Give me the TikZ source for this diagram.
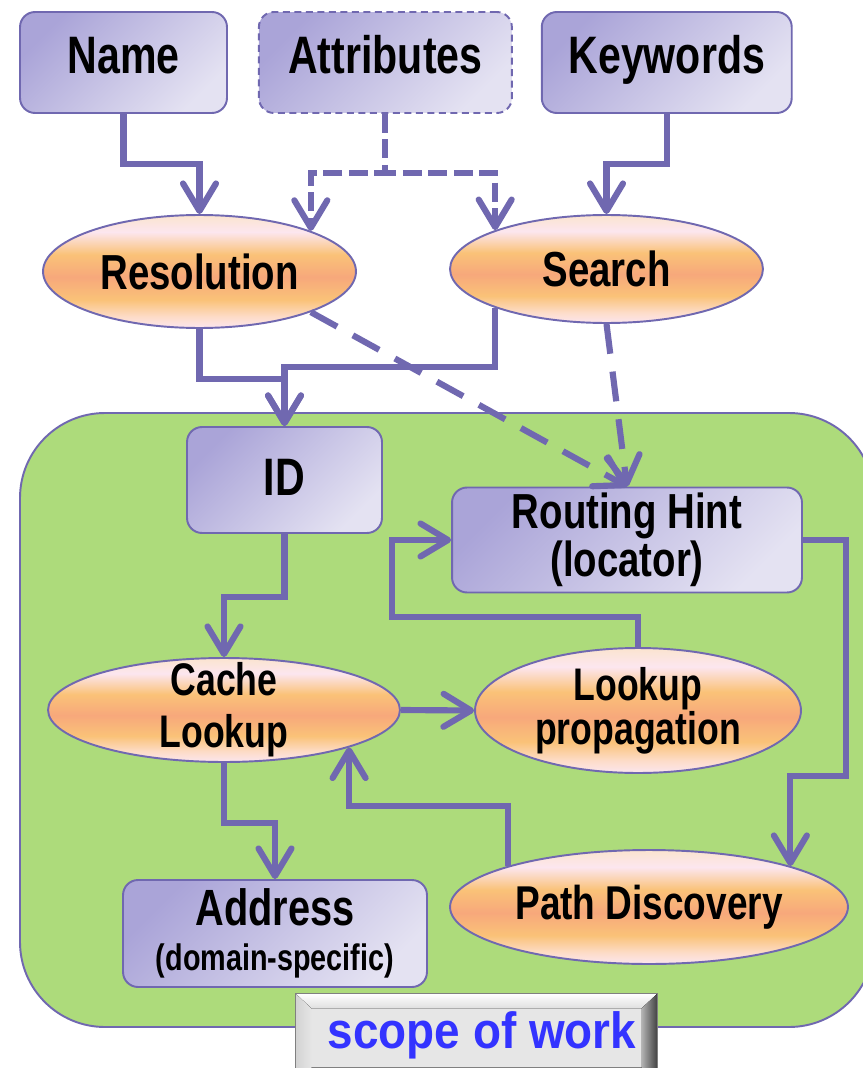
\documentclass[tikz,border=0pt]{standalone}
\usepackage{fontspec}
\setmainfont{Liberation Sans}[FakeStretch=0.78]
\newfontfamily\scopefont{Liberation Sans}[FakeStretch=0.9]
\usetikzlibrary{positioning,calc}
\usetikzlibrary{shapes.geometric}
\usetikzlibrary{arrows.meta}

\definecolor{lineblue}{RGB}{112,104,176}
\definecolor{boxdark}{RGB}{170,164,216}
\definecolor{boxlight}{RGB}{228,226,242}
\definecolor{scopegreen}{RGB}{173,219,123}
\definecolor{ovtop}{RGB}{251,228,207}
\definecolor{ovpink}{RGB}{252,230,239}
\definecolor{ovlow}{RGB}{253,220,200}
\definecolor{ovorange}{RGB}{250,194,120}
\definecolor{ovsalmon}{RGB}{247,168,123}
\definecolor{wordblue}{RGB}{51,51,255}

\pgfdeclareverticalshading{peachshade}{100bp}{%
  color(0bp)=(ovpink); color(25bp)=(ovpink); color(30bp)=(ovlow);
  color(37.5bp)=(ovorange); color(47.5bp)=(ovsalmon); color(57.5bp)=(ovorange);
  color(67.5bp)=(ovpink); color(75bp)=(ovtop); color(100bp)=(ovtop)}

\tikzset{%
  % Specifications for style of nodes:
    >={Straight Barb[length=0.55cm,width=0.66cm,round]},
    idbox/.style={rectangle, rounded corners=0.3cm, draw=lineblue, line width=1.1pt,
        top color=boxdark, bottom color=boxlight, shading angle=45,
        inner sep=0, align=center, font=\bfseries\fontsize{30}{30}\selectfont},
    topbox/.style={idbox, minimum height=2.02cm, text height=0.76cm, text depth=0.32cm},
    oval/.style={ellipse, draw=lineblue, line width=1.1pt, shading=peachshade,
        inner xsep=0, inner ysep=-0.4cm, align=center, font=\bfseries\fontsize{28}{28}\selectfont},
    flow/.style={->, draw=lineblue, line width=3.5pt},
    dflow/.style={flow, dash pattern=on 0.38cm off 0.13cm},
    lflow/.style={flow, dash pattern=on 0.6cm off 0.36cm},
    scopebtn/.style={rectangle, draw=gray, line width=0.6pt, fill={rgb,255:red,230;green,230;blue,230},
        minimum width=7.22cm, minimum height=1.48cm, inner sep=0, text height=0.9cm, text depth=0.21cm,
        text=wordblue, font=\scopefont\bfseries\fontsize{29}{29}\selectfont},
}

\begin{document}
\begin{tikzpicture}[x=0.02cm, y=-0.02cm]
    \useasboundingbox (0,0) rectangle (862,1068);
    % scope of work area
    \draw[fill=scopegreen, draw=lineblue, line width=1.1pt, rounded corners=1.7cm]
        (20,413) rectangle (874,1027);

    % inputs
    \node[topbox, minimum width=4.14cm] (name) at (123.5,62.5) {Name};
    \node[topbox, minimum width=5.06cm, dash pattern=on 0.14cm off 0.09cm, right=0.6cm of name] (attr) {Attributes};
    \node[topbox, minimum width=5.0cm, right=0.56cm of attr] (keyw) {Keywords};

    \node[oval, minimum width=6.26cm, minimum height=2.26cm] (res) at (199.5,271.5) {Resolution};
    \node[oval, minimum width=6.26cm, minimum height=2.16cm] (srch) at (606.5,269) {Search};

    % inside the scope
    \node[idbox, minimum width=3.9cm, minimum height=2.12cm, text depth=0.12cm] (id) at (284.5,480) {ID};
    \node[idbox, minimum width=7cm, minimum height=2.1cm, font=\bfseries\fontsize{28}{24}\selectfont]
        (hint) at (627,540) {Routing Hint\\(locator)};
    \node[oval, minimum width=7.04cm, minimum height=2.08cm, font=\bfseries\fontsize{26}{29.5}\selectfont]
        (cache) at (224,710) {Cache\\Lookup};
    \node[oval, minimum width=6.52cm, minimum height=2.5cm, font=\bfseries\fontsize{26}{23}\selectfont]
        (prop) at (638,710.5) {Lookup\\propagation};
    \node[oval, minimum width=7.96cm, minimum height=2.28cm, font=\bfseries\fontsize{27}{27}\selectfont]
        (path) at (649,907) {Path Discovery};
    \node[idbox, minimum width=6.08cm, minimum height=2.14cm, font=\bfseries\fontsize{29}{24}\selectfont]
        (addr) at (275,933.5) {Address\\[0.05cm]{\fontsize{21}{21}\selectfont(domain-specific)}};

    % label button
    \node[scopebtn] (scope) at (476.5,1031) {\hspace*{0.22cm}scope of work};
    \fill[top color=white, bottom color=gray!25] (scope.north west) -- (scope.north east)
        -- ++(-16,15) -- ($(scope.north west)+(16,15)$) -- cycle;
    \fill[left color=gray!35, right color=gray!20] (scope.north west) -- ++(16,15)
        -- ($(scope.south west)+(16,0)$) -- (scope.south west) -- cycle;
    \fill[left color=gray!60, right color=black!75] (scope.north east) -- ++(-16,15)
        -- ($(scope.south east)+(-16,0)$) -- (scope.south east) -- cycle;
    \draw[gray, line width=0.6pt] (scope.south west) |- (scope.north east) -- (scope.south east);

    % connectors
    \draw[flow] (name.south) -- ++(0,50) -| (res.north);
    \draw[dflow] (attr.south) -- ++(0,59) -| (res.north east);
    \draw[dflow] (attr.south) -- ++(0,59) -| (srch.north west);
    \draw[flow] (keyw.south) -- ++(0,50) -| (srch.north);
    \draw[flow] (res.south) -- ++(0,50) -| (id.north);
    \draw[flow] (srch.south west) -- ++(0,59) -| (id.north);
    \draw[lflow] (res.south east) -- (hint.north);
    \draw[lflow] (srch.south) -- (hint.north);
    \draw[flow] (id.south) -- ++(0,63) -| (cache.north);
    \draw[flow] (cache.east) -- (prop.west);
    \coordinate (hintin) at ([xshift=-1.18cm]hint.west);
    \draw[flow] (prop.north) -- ++(0,-30) -| (hintin) -- (hint.west);
    \draw[flow] (hint.east) -- ++(43,0) -- ++(0,236) -| (path.north east);
    \draw[flow] (path.north west) -- ++(0,-60) -| (cache.south east);
    \draw[flow] (cache.south) -- ++(0,60) -| (addr.north);
\end{tikzpicture}
\end{document}
